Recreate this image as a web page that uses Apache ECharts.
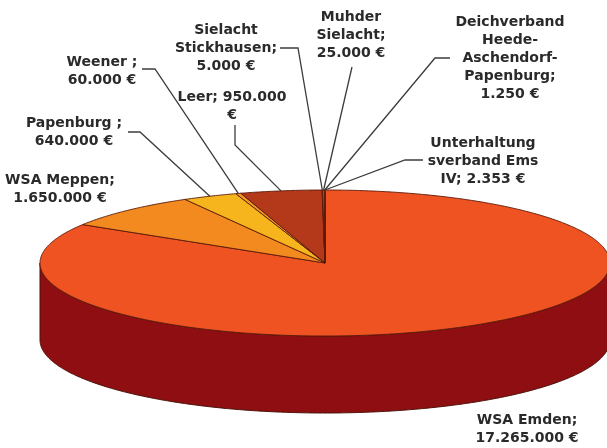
<!DOCTYPE html>
<html><head><meta charset="utf-8">
<script src="https://cdn.jsdelivr.net/npm/echarts@6/dist/echarts.min.js"></script>
<style>html,body{margin:0;padding:0;background:#fff}#c{width:607px;height:448px}</style>
</head><body><div id="c"></div>
<script>
// ---- data ----
const categories = ['WSA Emden', 'WSA Meppen', 'Papenburg ', 'Weener ', 'Leer', 'Sielacht Stickhausen', 'Muhder Sielacht', 'Deichverband Heede-Aschendorf-Papenburg', 'Unterhaltungsverband Ems IV'];
const values = [17265000, 1650000, 640000, 60000, 950000, 5000, 25000, 1250, 2353];
const labelTexts = [
  'WSA Emden;\n17.265.000 €',
  'WSA Meppen;\n1.650.000 €',
  'Papenburg ;\n640.000 €',
  'Weener ;\n60.000 €',
  'Leer; 950.000\n€',
  'Sielacht\nStickhausen;\n5.000 €',
  'Muhder\nSielacht;\n25.000 €',
  'Deichverband\nHeede-\nAschendorf-\nPapenburg;\n1.250 €',
  'Unterhaltung\nsverband Ems\nIV; 2.353 €'
];

// ---- styles / layout ----
const topColors = ['#ef5322', '#f28a20', '#f6b51c', '#f29a22', '#b4391a', '#e07020', '#c04a1c', '#d85a20', '#e86424'];
const sideColors = ['#8e0e12', '#a8501a', '#b07a14', '#a85a16', '#7a2410', '#9a4a14', '#80300f', '#903a12', '#9a3a14'];
const pie = { cx: 325, cy: 263, rx: 285, ry: 73, depth: 77, startAngle: 90 };
const labelPos = [[527, 411], [60, 171], [74, 114], [102, 53], [232, 88], [226, 21], [351, 8], [510, 13], [483, 134]];
const leaderStart = [null, null, [[128, 132], [140, 132]], [[142, 69], [155, 69]], [[235, 125], [235, 145]], [[280, 48], [298, 48]], [[352, 67]], [[450, 58], [435, 58]], [[423, 160], [405, 160]]];

const total = values.reduce((a, b) => a + b, 0);
const starts = [];
let acc = 0;
values.forEach(v => { starts.push(pie.startAngle - acc / total * 360); acc += v; });

function pt(a, dy) {
  const r = a * Math.PI / 180;
  return [pie.cx + pie.rx * Math.cos(r), pie.cy - pie.ry * Math.sin(r) + (dy || 0)];
}
function arc(a0, a1, dy) {
  const n = Math.max(2, Math.ceil(Math.abs(a1 - a0) / 0.5) + 1);
  const out = [];
  for (let i = 0; i < n; i++) out.push(pt(a0 + (a1 - a0) * i / (n - 1), dy));
  return out;
}

const chart = echarts.init(document.getElementById('c'), null, { renderer: 'canvas' });
const data = values.map((v, i) => ({ name: categories[i], value: v }));

chart.setOption({
  animation: false,
  backgroundColor: '#ffffff',
  series: [
    {
      type: 'custom',
      coordinateSystem: 'none',
      silent: true,
      data: data,
      renderItem: function (params, api) {
        const i = params.dataIndex;
        const v = api.value(0);
        const a0 = starts[i];
        const a1 = a0 - v / total * 360;
        const children = [];
        const lo = Math.max(a1, -180), hi = Math.min(a0, 0);
        if (lo < hi) {
          const top = arc(hi, lo, 0);
          const bot = arc(lo, hi, pie.depth);
          children.push({ type: 'polygon', shape: { points: top.concat(bot) }, style: { fill: sideColors[i], stroke: '#4a1208', lineWidth: 1 } });
        }
        children.push({ type: 'polygon', shape: { points: [[pie.cx, pie.cy]].concat(arc(a0, a1, 0)) }, style: { fill: topColors[i], stroke: '#5a1a0a', lineWidth: 0.9, lineJoin: 'round' } });
        return { type: 'group', children: children };
      }
    },
    {
      type: 'custom',
      coordinateSystem: 'none',
      silent: true,
      data: data,
      renderItem: function (params, api) {
        const i = params.dataIndex;
        const v = api.value(0);
        const a0 = starts[i];
        const mid = a0 - v / total * 180;
        const children = [];
        if (leaderStart[i]) {
          const pts = leaderStart[i].concat([pt(mid, 0)]);
          children.push({ type: 'polyline', shape: { points: pts }, style: { stroke: '#3c3c3c', lineWidth: 1.3, fill: null } });
        }
        children.push({
          type: 'text',
          style: {
            text: labelTexts[i], x: labelPos[i][0], y: labelPos[i][1],
            align: 'center', verticalAlign: 'top',
            font: 'bold 14px "DejaVu Sans", Verdana, sans-serif',
            fill: '#2a2a2a', lineHeight: 18
          }
        });
        return { type: 'group', children: children };
      }
    }
  ]
});
</script>
</body></html>
